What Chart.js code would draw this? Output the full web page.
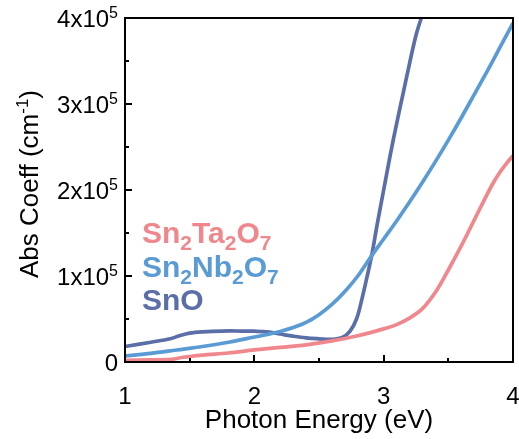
<!DOCTYPE html>
<html>
<head>
<meta charset="utf-8">
<script src="https://cdn.jsdelivr.net/npm/chart.js@4.4.1/dist/chart.umd.min.js"></script>
<style>
  body { margin: 0; background: #fff; }
</style>
</head>
<body>
<canvas id="absChart" width="519" height="439"></canvas>
<script>
// photon energy (eV) and absorption coefficient (cm^-1)
const taEnergy = [1.0, 1.2, 1.36, 1.45, 1.6, 1.8, 2.0, 2.2, 2.4, 2.6, 2.8, 3.0, 3.1, 3.2, 3.3, 3.4, 3.5, 3.6, 3.7, 3.8, 3.85, 3.9, 3.95, 4.0];
const taCoeff = [2000, 2500, 3000, 5500, 8000, 10500, 14000, 17000, 20000, 24500, 30500, 38500, 43500, 51000, 62000, 81000, 107000, 135000, 165000, 195000, 209000, 221000, 231000, 240000];

const nbEnergy = [1.0, 1.2, 1.4, 1.6, 1.8, 2.0, 2.1, 2.2, 2.3, 2.4, 2.5, 2.6, 2.7, 2.8, 2.9, 3.0, 3.1, 3.2, 3.3, 3.4, 3.5, 3.6, 3.7, 3.8, 3.9, 4.0];
const nbCoeff = [7000, 10000, 14000, 18000, 23000, 29000, 32000, 35500, 40000, 46000, 55000, 67000, 82000, 100000, 122000, 143000, 164000, 186000, 209000, 233000, 258000, 284000, 311000, 338000, 366000, 394000];

const snoEnergy = [1.0, 1.2, 1.35, 1.42, 1.5, 1.6, 1.75, 1.9, 2.0, 2.1, 2.2, 2.3, 2.4, 2.5, 2.6, 2.68, 2.74, 2.79, 2.83, 2.87, 2.91, 2.95, 3.0, 3.05, 3.1, 3.15, 3.2, 3.25, 3.295];
const snoCoeff = [18000, 23000, 27000, 30500, 33500, 35000, 36000, 36000, 35800, 35000, 32500, 30000, 28000, 27000, 26400, 28500, 36000, 50000, 72000, 98000, 126000, 160000, 200000, 240000, 277000, 312000, 347000, 380000, 402000];

const seriesNames = ['Sn_{2}Ta_{2}O_{7}', 'Sn_{2}Nb_{2}O_{7}', 'SnO'];
const seriesColors = ['#f0878c', '#5b9bd5', '#5a6ea7'];

const xTickValues = [1, 2, 3, 4];
const xTickLabels = ['1', '2', '3', '4'];
const yTickValues = [0, 100000, 200000, 300000, 400000];
const yTickLabels = ['0', '1x10^{5}', '2x10^{5}', '3x10^{5}', '4x10^{5}'];
const xTitle = 'Photon Energy (eV)';
const yTitle = 'Abs Coeff (cm^{-1})';

const FONT = '"Liberation Sans", Arial, sans-serif';

function toPoints(xs, ys) {
    return xs.map((v, i) => ({ x: v, y: ys[i] }));
}

// split "a_{b}c^{d}" into plain / sub / sup pieces
function parseRich(text) {
    const parts = [];
    const re = /([_^])\{([^}]*)\}/g;
    let last = 0, m;
    while ((m = re.exec(text))) {
        if (m.index > last) parts.push({ t: text.slice(last, m.index), k: '' });
        parts.push({ t: m[2], k: m[1] });
        last = re.lastIndex;
    }
    if (last < text.length) parts.push({ t: text.slice(last), k: '' });
    return parts;
}

function drawRich(ctx, text, x, y, size, weight, align, color, ratio) {
    const parts = parseRich(text);
    const small = Math.round(size * (ratio || 0.66));
    const fontFor = p => weight + ' ' + (p.k ? small : size) + 'px ' + FONT;
    let total = 0;
    parts.forEach(p => {
        ctx.font = fontFor(p);
        p.w = ctx.measureText(p.t).width;
        total += p.w;
    });
    let cx = x;
    if (align === 'right') cx = x - total;
    else if (align === 'center') cx = x - total / 2;
    ctx.fillStyle = color;
    ctx.textAlign = 'left';
    ctx.textBaseline = 'alphabetic';
    parts.forEach(p => {
        ctx.font = fontFor(p);
        let dy = 0;
        if (p.k === '^') dy = -size * 0.38;
        if (p.k === '_') dy = size * 0.24;
        ctx.fillText(p.t, cx, y + dy);
        cx += p.w;
    });
}

const decorPlugin = {
    id: 'decor',
    afterDraw(chart) {
        const ctx = chart.ctx;
        const a = chart.chartArea;
        const xs = chart.scales.x;
        const ys = chart.scales.y;
        ctx.save();

        // frame
        ctx.strokeStyle = '#000';
        ctx.lineWidth = 2;
        ctx.strokeRect(a.left, a.top, a.right - a.left, a.bottom - a.top);

        // inward tick marks
        ctx.beginPath();
        xs.ticks.forEach(t => {
            const px = Math.round(xs.getPixelForValue(t.value));
            const len = Number.isInteger(t.value) ? 7 : 4;
            ctx.moveTo(px, a.bottom);
            ctx.lineTo(px, a.bottom - len);
        });
        ys.ticks.forEach(t => {
            const py = Math.round(ys.getPixelForValue(t.value));
            const len = t.value % 100000 === 0 ? 7 : 4;
            ctx.moveTo(a.left, py);
            ctx.lineTo(a.left + len, py);
        });
        ctx.stroke();

        // tick labels
        xTickValues.forEach((v, i) => {
            drawRich(ctx, xTickLabels[i], xs.getPixelForValue(v), a.bottom + 42, 24, 'normal', 'center', '#000');
        });
        yTickValues.forEach((v, i) => {
            drawRich(ctx, yTickLabels[i], a.left - 7, ys.getPixelForValue(v) + 9, 24, 'normal', 'right', '#000');
        });

        // axis titles
        drawRich(ctx, xTitle, (a.left + a.right) / 2, a.bottom + 66, 26, 'normal', 'center', '#000');
        ctx.save();
        ctx.translate(38, (a.top + a.bottom) / 2 - 6);
        ctx.rotate(-Math.PI / 2);
        drawRich(ctx, yTitle, 0, 0, 26, 'normal', 'center', '#000');
        ctx.restore();

        // legend as coloured text
        seriesNames.forEach((name, i) => {
            drawRich(ctx, name, a.left + 17, 243 + i * 33.5, 30, 'bold', 'left', seriesColors[i], 0.7);
        });

        ctx.restore();
    }
};

const ctx = document.getElementById('absChart').getContext('2d');
new Chart(ctx, {
    type: 'line',
    data: {
        datasets: [
            { label: 'Sn2Ta2O7', data: toPoints(taEnergy, taCoeff) },
            { label: 'Sn2Nb2O7', data: toPoints(nbEnergy, nbCoeff) },
            { label: 'SnO', data: toPoints(snoEnergy, snoCoeff) }
        ].map((d, i) => Object.assign(d, {
            borderColor: seriesColors[i],
            backgroundColor: seriesColors[i],
            borderWidth: 3.7,
            pointRadius: 0,
            tension: 0.35,
            fill: false
        }))
    },
    options: {
        responsive: false,
        animation: false,
        events: [],
        layout: { padding: { top: 18, right: 6, left: 0, bottom: 0 } },
        plugins: {
            legend: { display: false },
            tooltip: { enabled: false }
        },
        scales: {
            x: {
                type: 'linear',
                min: 1,
                max: 4,
                ticks: { stepSize: 0.5, display: false },
                grid: { display: false },
                border: { display: false },
                afterFit: scale => { scale.height = 77; }
            },
            y: {
                min: 0,
                max: 400000,
                ticks: { stepSize: 50000, display: false },
                grid: { display: false },
                border: { display: false },
                afterFit: scale => { scale.width = 125; }
            }
        }
    },
    plugins: [decorPlugin]
});
</script>
</body>
</html>
